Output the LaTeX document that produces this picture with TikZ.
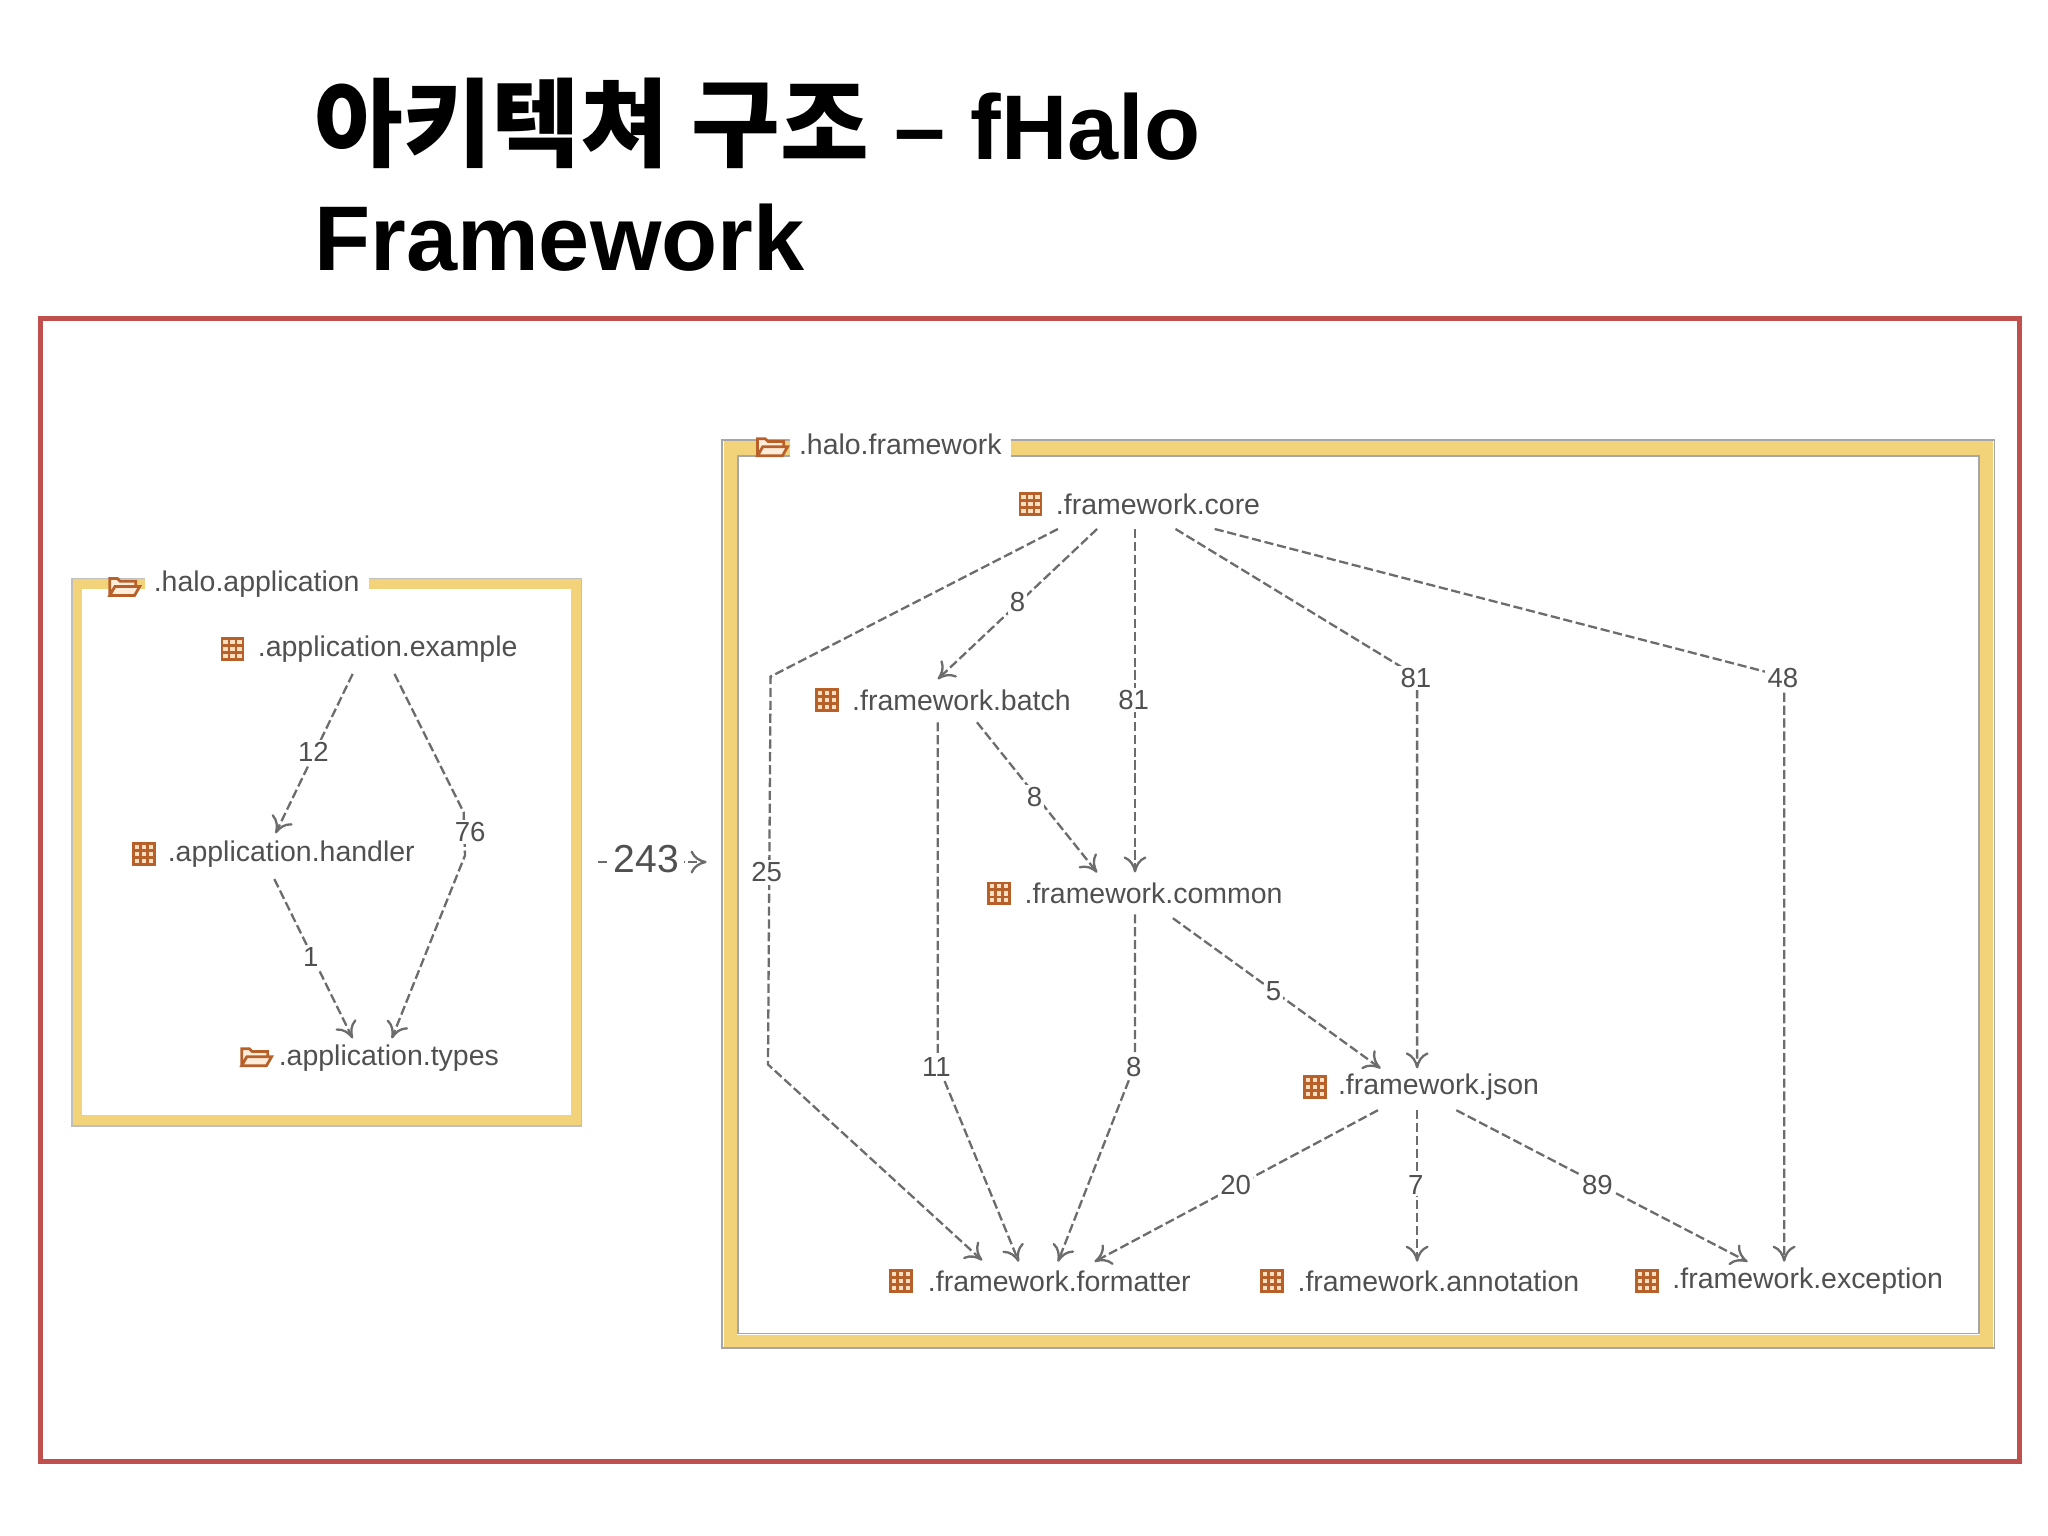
\documentclass[tikz,border=0pt]{standalone}
\usepackage{fontspec}
\setmainfont{Liberation Sans}
\newfontfamily\kr{Noto Sans CJK KR}
\usetikzlibrary{arrows.meta}
\definecolor{gold}{HTML}{F2D37A}
\definecolor{redb}{HTML}{C0504D}
\definecolor{txt}{HTML}{505050}
\definecolor{icon}{HTML}{B8602A}
\tikzset{
 lbl/.style={font=\fontsize{6.2}{7}\selectfont, text=txt, anchor=west, inner sep=0.5pt},
 num/.style={font=\fontsize{6}{7}\selectfont, text=txt, fill=white, inner sep=0.5pt},
 dep/.style={draw=gray!85!black, line width=0.5pt, dash pattern=on 2pt off 0.8pt, -{To[length=3.5pt,width=5pt]}},
 pkg/.pic={\draw[icon, fill=orange!25, line width=0.6pt] (-8,-8) rectangle (8,8);
   \draw[icon, line width=0.6pt] (-8,-2.7)--(8,-2.7) (-8,2.7)--(8,2.7) (-2.7,-8)--(-2.7,8) (2.7,-8)--(2.7,8);},
 fold/.pic={\draw[icon, fill=orange!15, line width=0.6pt] (-11,6)--(-11,-7)--(-5,-7)--(-3,-5)--(9,-5)--(9,-1) (-11,6)--(-7,-1)--(12,-1)--(8,6)--cycle;}
}
\begin{document}
\begin{tikzpicture}[x=0.01cm,y=-0.01cm]
\useasboundingbox (0,0) rectangle (1568,1176);
% title
\node[anchor=base west, inner sep=0, font=\fontsize{20}{24}\bfseries] (t1) at (240,122) {{\kr\fontsize{21}{24}\selectfont 아키텍쳐 구조} – fHalo};
\node[anchor=base west, inner sep=0, font=\fontsize{20}{24}\bfseries] (t2) at (240,207) {Framework};
% red frame
\draw[redb, line width=1.1pt] (31,244) rectangle (1546,1119);
% application container
\draw[gold, line width=0.08cm] (59,447) rectangle (441,858);
\draw[gray!50, line width=0.3pt] (55,443) rectangle (445,862);
\node[lbl, fill=white, inner sep=2pt] (happ) at (110,447) {.halo.application};
\pic at (95,450) {fold};
% framework container
\draw[gold, line width=0.1cm] (559,343) rectangle (1521,1027);
\draw[gray!70, line width=0.4pt] (553,337) rectangle (1527,1032) (565,349) rectangle (1515,1021);
\node[lbl, fill=white, inner sep=2pt] (hfw) at (604,340) {.halo.framework};
\pic at (591,343) {fold};
% app nodes
\pic at (178,497) {pkg}; \node[lbl] (ex) at (195,497) {.application.example};
\pic at (110,654) {pkg}; \node[lbl] (ha) at (126,654) {.application.handler};
\pic at (196,810) {fold}; \node[lbl] (ty) at (211,810) {.application.types};
% fw nodes
\pic at (789,386) {pkg}; \node[lbl] (core) at (806,386) {.framework.core};
\pic at (633,536) {pkg}; \node[lbl] (batch) at (650,536) {.framework.batch};
\pic at (765,684) {pkg}; \node[lbl] (common) at (782,684) {.framework.common};
\pic at (1007,832) {pkg}; \node[lbl] (json) at (1022,832) {.framework.json};
\pic at (690,981) {pkg}; \node[lbl] (form) at (708,981) {.framework.formatter};
\pic at (974,981) {pkg}; \node[lbl] (anno) at (991,981) {.framework.annotation};
\pic at (1261,981) {pkg}; \node[lbl] (exc) at (1278,981) {.framework.exception};
% app edges
\draw[dep] (270,516) -- (211,638); \node[num] at (240,576) {12};
\draw[dep] (302,516) -- (355,622) -- (356,655) -- (300,795); \node[num] at (360,637) {76};
\draw[dep] (210,673) -- (270,795); \node[num] at (238,733) {1};
% 243
\draw[dep] (458,660) -- (541,660);
\node[font=\fontsize{8.5}{10}\selectfont, text=txt, fill=white, inner sep=1pt] at (495,658) {243};
% fw edges
\draw[dep] (810,405) -- (590,518) -- (588,815) -- (752,965); \node[num] at (587,668) {25};
\draw[dep] (840,405) -- (718,520); \node[num] at (779,461) {8};
\draw[dep] (869,405) -- (869,668); \node[num] at (868,536) {81};
\draw[dep] (900,405) -- (1085,518) -- (1085,818); \node[num] at (1084,519) {81};
\draw[dep] (930,405) -- (1366,518) -- (1366,966); \node[num] at (1365,519) {48};
\draw[dep] (748,553) -- (840,668); \node[num] at (792,610) {8};
\draw[dep] (718,553) -- (718,815) -- (780,966); \node[num] at (717,817) {11};
\draw[dep] (869,700) -- (869,815) -- (810,966); \node[num] at (868,817) {8};
\draw[dep] (898,703) -- (1057,818); \node[num] at (975,759) {5};
\draw[dep] (1055,850) -- (838,966); \node[num] at (946,907) {20};
\draw[dep] (1085,850) -- (1085,966); \node[num] at (1084,907) {7};
\draw[dep] (1115,850) -- (1338,966); \node[num] at (1223,907) {89};
\end{tikzpicture}
\end{document}
